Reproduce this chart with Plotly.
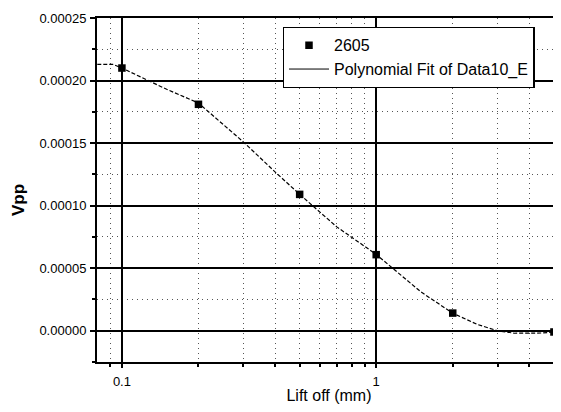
import math
import plotly.graph_objects as go

# Measured data points
lift_off_mm = [0.1, 0.2, 0.5, 1.0, 2.0, 5.0]
vpp_2605 = [0.000210, 0.000181, 0.000109, 0.0000608, 0.0000141, -0.000001]

# Polynomial fit curve
fit_x = [0.08, 0.092, 0.1, 0.15, 0.2, 0.3, 0.4, 0.5, 0.7, 1.0, 1.5, 2.0, 2.5, 3.0, 3.5, 4.0, 4.5, 5.0, 5.4]
fit_y = [0.000213, 0.000213, 0.000210, 0.000193, 0.000182, 0.000151, 0.000127, 0.000109, 0.000083,
         0.0000610, 0.0000310, 0.0000140, 0.0000050, 0.0000000, -0.0000020, -0.0000022, -0.0000018,
         -0.0000010, 0.0000000]

x_major_ticks = [0.1, 1]
x_major_labels = ["0.1", "1"]
x_minor_ticks = [0.09, 0.2, 0.3, 0.4, 0.5, 0.6, 0.7, 0.8, 0.9, 2, 3, 4, 5]

FONT = "Liberation Sans, Arial, sans-serif"

fig = go.Figure()
fig.add_trace(go.Scatter(
    x=fit_x, y=fit_y, mode="lines",
    line=dict(color="black", width=1.2, dash="4px,2px"),
    showlegend=False, hoverinfo="skip"))
fig.add_trace(go.Scatter(
    x=lift_off_mm, y=vpp_2605, mode="markers", name="2605",
    marker=dict(symbol="square", size=7.5, color="black")))
fig.add_trace(go.Scatter(
    x=[None], y=[None], mode="lines", name="Polynomial Fit of Data10_E",
    line=dict(color="black", width=1)))

# page body has an 8px margin: figure is 553x404 so it ends at the window edge
fig.update_layout(
    width=553, height=404,
    margin=dict(l=89, r=0, t=10, b=50),
    paper_bgcolor="white", plot_bgcolor="white",
    font=dict(family=FONT, color="black", size=12),
    showlegend=True,
    legend=dict(
        x=0.40, y=0.974, xanchor="left", yanchor="top",
        bgcolor="white", bordercolor="black", borderwidth=1.4,
        font=dict(size=16, family=FONT), tracegroupgap=0,
        itemwidth=40),
    annotations=[dict(
        text="<b>Vpp</b>", textangle=-90, showarrow=False,
        xref="paper", yref="paper", x=-0.168, y=0.471,
        xanchor="center", yanchor="middle",
        font=dict(size=17, family=FONT, color="black"))],
)

fig.update_xaxes(
    type="log",
    range=[math.log10(0.0798), math.log10(5.33)],
    tickmode="array", tickvals=x_major_ticks, ticktext=x_major_labels,
    tickfont=dict(size=13, family=FONT),
    ticks="outside", ticklen=4, tickwidth=1.5, tickcolor="black",
    ticklabelstandoff=2,
    showline=True, linecolor="black", linewidth=2, mirror=True,
    showgrid=True, gridcolor="black", gridwidth=1.5,
    zeroline=False,
    minor=dict(tickmode="array", tickvals=x_minor_ticks, ticks="outside", ticklen=3,
               tickcolor="black", showgrid=True, gridcolor="#555", griddash="1px,4px", gridwidth=1.2),
    title=dict(text="Lift off (mm)", font=dict(size=16, family=FONT), standoff=2),
)

fig.update_yaxes(
    range=[-0.000025, 0.00025],
    tickmode="linear", tick0=0, dtick=0.00005, tickformat=".5f",
    tickfont=dict(size=13, family=FONT),
    ticks="outside", ticklen=5, tickwidth=1.5, tickcolor="black",
    ticklabelstandoff=1,
    showline=True, linecolor="black", linewidth=2, mirror=False,
    showgrid=True, gridcolor="black", gridwidth=1.5,
    zeroline=False,
    minor=dict(dtick=0.000025, tick0=0, ticks="outside", ticklen=3, tickcolor="black",
               showgrid=True, gridcolor="#555", griddash="1px,4px", gridwidth=1.2),
)

fig.write_html("out.html")
